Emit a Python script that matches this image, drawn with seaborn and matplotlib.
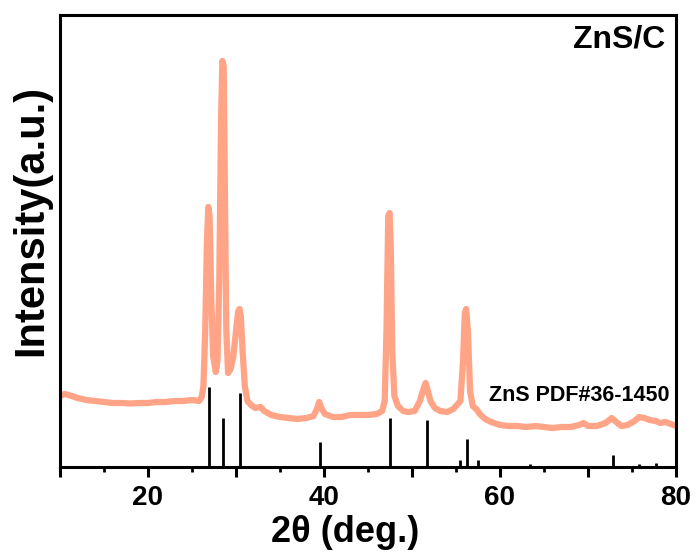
import matplotlib
matplotlib.use("Agg")
import matplotlib.pyplot as plt
import seaborn as sns
import numpy as np
import pandas as pd
from matplotlib.ticker import MultipleLocator, FuncFormatter

# ---- data ----
two_theta = [10.0, 10.5, 11.0, 12.0, 13.0, 14.0, 15.0, 16.0, 17.0, 18.0, 19.0, 20.0,
             21.0, 22.0, 23.0, 24.0, 25.0, 25.8, 26.1, 26.3, 26.5, 26.7, 26.85, 27.0,
             27.2, 27.4, 27.7, 27.9, 28.1, 28.3, 28.45, 28.6, 28.75, 28.9, 29.1, 29.4,
             29.7, 30.0, 30.25, 30.4, 30.55, 30.75, 31.0, 31.3, 31.7, 32.2, 32.8, 33.2,
             34.0, 35.0, 36.0, 37.0, 38.0, 38.8, 39.2, 39.45, 39.7, 40.1, 41.0, 42.0,
             43.0, 44.0, 45.0, 46.0, 46.6, 46.9, 47.1, 47.3, 47.45, 47.6, 47.75, 48.0,
             48.4, 49.0, 49.6, 50.3, 50.9, 51.3, 51.55, 51.8, 52.1, 52.6, 53.2, 54.0,
             54.7, 55.2, 55.5, 55.8, 56.0, 56.15, 56.35, 56.6, 56.9, 57.3, 57.7, 58.3,
             59.0, 60.0, 61.0, 62.0, 63.0, 64.0, 65.0, 66.0, 67.0, 68.0, 69.0, 69.5,
             70.0, 71.0, 72.0, 72.7, 73.2, 73.8, 74.5, 75.3, 75.8, 76.4, 77.0, 77.7,
             78.2, 78.8, 79.4, 80.0]
intensity = [71, 73, 72, 69, 67, 66, 65, 64, 64, 63.5, 64, 64,
             65, 65, 66, 66, 67, 66, 70, 81, 136, 226, 260, 251,
             166, 111, 95, 106, 186, 346, 406, 401, 266, 136, 94, 98,
             111, 136, 156, 158, 151, 116, 81, 66, 62, 59, 60, 56,
             52, 50, 49, 48, 49, 51, 58, 65, 59, 53, 50, 50,
             52, 52, 52, 53, 56, 66, 136, 251, 254, 216, 116, 71,
             61, 56, 55, 56, 66, 78, 84, 76, 66, 59, 56, 55,
             58, 63, 66, 106, 154, 158, 136, 76, 61, 58, 53, 48,
             45, 42, 41, 41, 40, 41, 40, 39, 40, 40, 42, 44,
             41, 41, 44, 49, 45, 41, 42, 46, 50, 49, 47, 46,
             44, 45, 43, 41]

ref_pos = [26.9, 28.5, 30.5, 39.6, 47.5, 51.7, 55.4, 56.3, 57.5, 63.4, 72.8, 75.8, 77.7]
ref_int = [80, 49, 74, 25, 49, 47, 7, 28, 7, 3, 12, 3, 4]

sample_label = "ZnS/C"
ref_label = "ZnS PDF#36-1450"

# ---- plot ----
sns.set_theme(style="ticks")
plt.rcParams['font.family'] = ['Liberation Sans', 'DejaVu Sans']
plt.rcParams['font.weight'] = 'bold'
plt.rcParams['text.color'] = 'black'
plt.rcParams['axes.labelcolor'] = 'black'
plt.rcParams['xtick.color'] = 'black'
plt.rcParams['ytick.color'] = 'black'

fig = plt.figure(figsize=(6.97, 5.55), dpi=100)
ax = fig.add_axes([60/697, 1-467/555, 616/697, 452/555])

df = pd.DataFrame({"2theta": two_theta, "I": intensity})
sns.lineplot(data=df, x="2theta", y="I", ax=ax, color="#FFA486", linewidth=4.5,
             solid_joinstyle='round', solid_capstyle='round')

ax.vlines(ref_pos, 0, ref_int, colors="black", linewidth=2.0)

ax.set_xlim(10, 80)
ax.set_ylim(0, 452)
ax.set_yticks([])

ax.xaxis.set_major_locator(MultipleLocator(10))
ax.xaxis.set_minor_locator(MultipleLocator(5))
ax.xaxis.set_major_formatter(FuncFormatter(lambda v, p: f"{int(round(v))}" if int(round(v)) % 20 == 0 else ""))
ax.tick_params(axis='x', which='major', direction='out', length=7, width=2.2,
               labelsize=20, pad=6, colors='black')
ax.tick_params(axis='x', which='minor', direction='out', length=3.5, width=2.0, colors='black')
for lab in ax.get_xticklabels():
    lab.set_fontweight('bold')

for s in ax.spines.values():
    s.set_linewidth(2.2)
    s.set_color('black')
    s.set_visible(True)

ax.set_xlabel("2θ (deg.)", fontsize=26, fontweight='bold', color='black')
ax.xaxis.set_label_coords(0.463, -0.106)
ax.xaxis.label.set_va('top')
ax.set_ylabel("Intensity(a.u.)", fontsize=30, fontweight='bold', color='black')
ax.yaxis.set_label_coords(-0.015, 0.546)

ax.text(0.982, 0.978, sample_label, transform=ax.transAxes, ha='right', va='top',
        fontsize=23, fontweight='bold', color='black')
ax.text(0.99, 0.158, ref_label, transform=ax.transAxes, ha='right', va='center',
        fontsize=15.5, fontweight='bold', color='black')

fig.savefig("out.png", dpi=100)
